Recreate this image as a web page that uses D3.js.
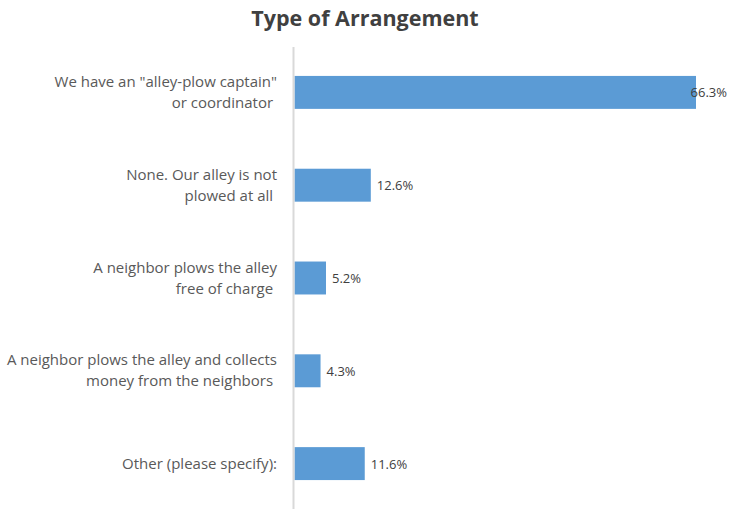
<!DOCTYPE html>
<html>
<head>
<meta charset="utf-8">
<script src="https://cdn.jsdelivr.net/npm/d3@7"></script>
<style>
  body { margin: 0; background: #fff; }
  text { font-family: "Open Sans", sans-serif; }
</style>
</head>
<body>
<div id="chart"></div>
<script>
const categories = [
  'We have an "alley-plow captain"|or coordinator ',
  'None. Our alley is not|plowed at all ',
  'A neighbor plows the alley|free of charge ',
  'A neighbor plows the alley and collects|money from the neighbors ',
  'Other (please specify):'
];
const values = [66.3, 12.6, 5.2, 4.3, 11.6];
const valueLabels = ['66.3%', '12.6%', '5.2%', '4.3%', '11.6%'];

const w = 729, h = 509;
const svg = d3.select('#chart').append('svg')
  .attr('width', w).attr('height', h);

svg.append('text')
  .attr('x', 365).attr('y', 26)
  .attr('text-anchor', 'middle')
  .attr('font-size', 21.5).attr('font-weight', 'bold')
  .attr('fill', '#404040')
  .text('Type of Arrangement');

const xScale = d3.scaleLinear().domain([0, 66.3]).range([294.5, 696]);
const yScale = d3.scaleBand().domain(categories).range([46, 510])
  .paddingInner(0.645).paddingOuter(0.3225);

svg.selectAll('rect.bar').data(values).enter().append('rect')
  .attr('class', 'bar')
  .attr('x', xScale(0))
  .attr('y', (d, i) => yScale(categories[i]))
  .attr('width', d => xScale(d) - xScale(0))
  .attr('height', yScale.bandwidth())
  .attr('fill', '#5b9bd5');

// vertical axis line
svg.append('line')
  .attr('x1', 293.5).attr('x2', 293.5)
  .attr('y1', 47).attr('y2', 509)
  .attr('stroke', '#d9d9d9').attr('stroke-width', 2);

// category labels
categories.forEach((c, i) => {
  const lines = c.split('|');
  const cy = yScale(c) + yScale.bandwidth() / 2;
  const t = svg.append('text')
    .attr('text-anchor', 'end')
    .attr('font-size', 15)
    .attr('fill', '#595959')
    .style('white-space', 'pre');
  lines.forEach((ln, j) => {
    t.append('tspan')
      .attr('x', 277)
      .attr('y', cy + 5 + (j - (lines.length - 1) / 2) * 21)
      .text(ln);
  });
});

// value labels
svg.selectAll('text.val').data(values).enter().append('text')
  .attr('class', 'val')
  .attr('font-size', 13)
  .attr('fill', '#404040')
  .attr('y', (d, i) => yScale(categories[i]) + yScale.bandwidth() / 2 + 5)
  .text((d, i) => valueLabels[i])
  .attr('x', function(d) {
    const tw = this.getComputedTextLength();
    return Math.min(xScale(d) + 6, w - tw - 2);
  });
</script>
</body>
</html>
